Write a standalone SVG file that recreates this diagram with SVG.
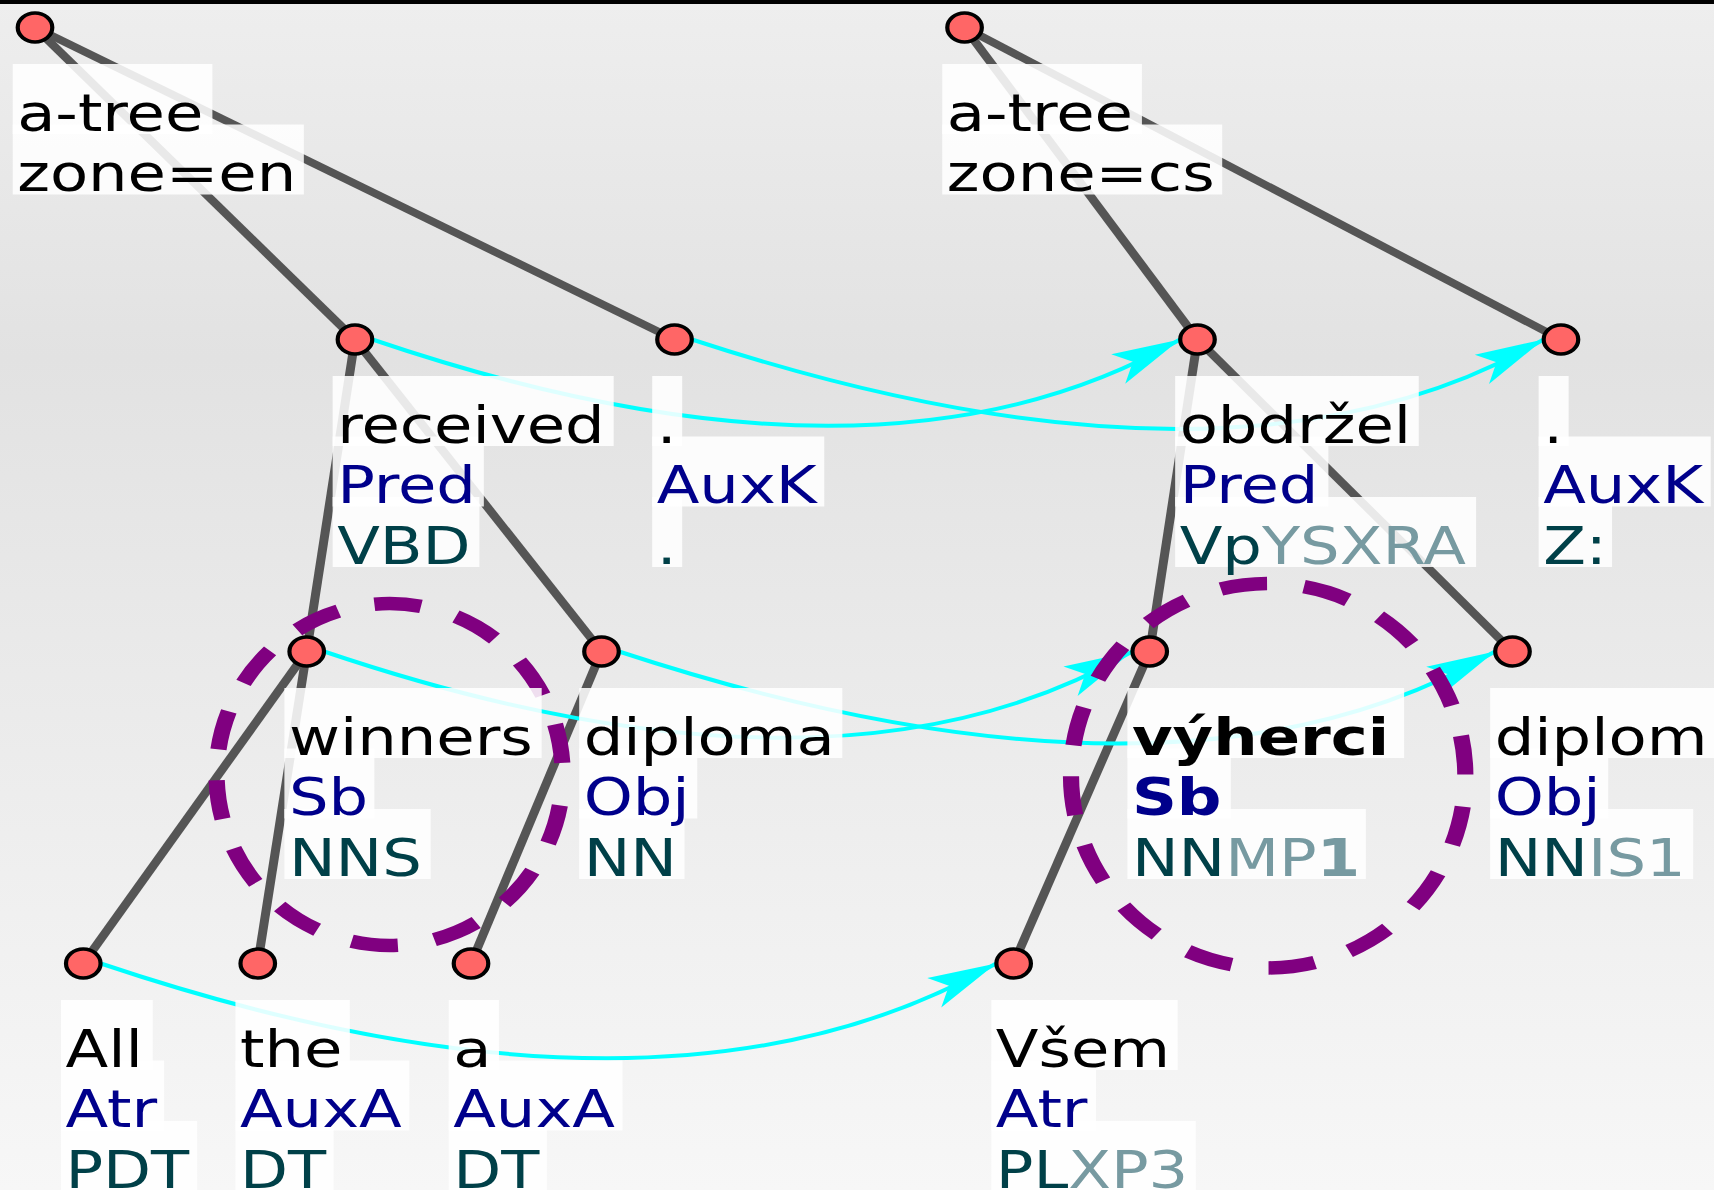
<svg xmlns="http://www.w3.org/2000/svg" width="1714" height="1190" viewBox="0 0 1714 1190">
<style>
.t{font-family:"DejaVu Sans","Liberation Sans",sans-serif;font-size:52px}
.l1{fill:#000}
.l2{fill:#00008b}
.l3{fill:#004048}
.lt{fill:#779aa1}
.b{font-weight:bold}
.bg{fill:#fff;fill-opacity:.87}
.edge{stroke:#555;stroke-width:7.5;fill:none;stroke-linecap:butt}
.node{fill:#ff6666;stroke:#000;stroke-width:3.5}
.al{stroke:#00ffff;stroke-width:4;fill:none;marker-end:url(#ah)}
.grp{fill:none;stroke:#800080;stroke-width:13.5;stroke-dasharray:39 31;stroke-dashoffset:39}
</style>
<defs>
<linearGradient id="bgg" x1="0" y1="0" x2="0" y2="1">
<stop offset="0" stop-color="#eeeeee"/>
<stop offset="0.3" stop-color="#e2e2e2"/>
<stop offset="1" stop-color="#f7f7f7"/>
</linearGradient>
<marker id="ah" viewBox="-80 -30 90 60" markerWidth="90" markerHeight="60" refX="0" refY="0" orient="auto" markerUnits="userSpaceOnUse">
<path d="M0,0 L-67,-21.5 L-52,-4.1 L-69.5,11 Z" fill="#00ffff"/>
</marker>
</defs>
<rect x="0" y="0" width="1714" height="1190" fill="url(#bgg)"/>
<rect x="0" y="0" width="1714" height="4" fill="#000"/>

<g id="edges" transform="scale(1.2,1)">
<line class="edge" x1="29.17" y1="27.5" x2="295.8" y2="339.5"/>
<line class="edge" x1="29.17" y1="27.5" x2="562.1" y2="339.5"/>
<line class="edge" x1="295.8" y1="339.5" x2="255.6" y2="651.5"/>
<line class="edge" x1="295.8" y1="339.5" x2="501.25" y2="651.5"/>
<line class="edge" x1="255.6" y1="651.5" x2="69.4" y2="963.5"/>
<line class="edge" x1="255.6" y1="651.5" x2="214.8" y2="963.5"/>
<line class="edge" x1="501.25" y1="651.5" x2="392.5" y2="963.5"/>
<line class="edge" x1="803.8" y1="27.5" x2="997.9" y2="339.5"/>
<line class="edge" x1="803.8" y1="27.5" x2="1300.8" y2="339.5"/>
<line class="edge" x1="997.9" y1="339.5" x2="958.1" y2="651.5"/>
<line class="edge" x1="997.9" y1="339.5" x2="1260.4" y2="651.5"/>
<line class="edge" x1="958.1" y1="651.5" x2="844.7" y2="963.5"/>
</g>

<g id="alignment">
<path class="al" d="M372.5,339.5 Q880,512 1180,339.5"/>
<path class="al" d="M692,339.5 Q1237,518.3 1543.5,339.5"/>
<path class="al" d="M324.2,651.5 Q835,824 1132.2,651.5"/>
<path class="al" d="M619,651.5 Q1179.6,835.5 1495,651.5"/>
<path class="al" d="M100.8,963.5 Q665,1153 996.1,963.5"/>
</g>

<g transform="scale(1.2,1)">
<g id="groups">
<ellipse class="grp" cx="324.7" cy="774.5" rx="144.2" ry="171"/>
<ellipse class="grp" cx="1056.8" cy="775.7" rx="164.3" ry="192.2"/>
</g>

<g id="n-en-root">
<rect class="bg" x="10.6" y="64" width="166.4" height="70"/>
<rect class="bg" x="10.6" y="124.5" width="242.6" height="70"/>
<text class="t l1" x="14.3" y="131">a-tree</text>
<text class="t l1" x="14.3" y="191.5">zone=en</text>
<ellipse class="node" cx="29.17" cy="27.5" rx="14.4" ry="14.4"/>
</g>

<g id="n-received">
<rect class="bg" x="277.2" y="376" width="234.2" height="70"/>
<rect class="bg" x="277.2" y="436.5" width="126" height="70"/>
<rect class="bg" x="277.2" y="497" width="122.3" height="70"/>
<text class="t l1" x="280.95" y="443">received</text>
<text class="t l2" x="280.95" y="503.5">Pred</text>
<text class="t l3" x="280.95" y="564">VBD</text>
<ellipse class="node" cx="295.8" cy="339.5" rx="14.4" ry="14.4"/>
</g>

<g id="n-period-en">
<rect class="bg" x="543.5" y="376" width="25" height="70"/>
<rect class="bg" x="543.5" y="436.5" width="143.4" height="70"/>
<rect class="bg" x="543.5" y="497" width="25" height="70"/>
<text class="t l1" x="547.25" y="443">.</text>
<text class="t l2" x="547.25" y="503.5">AuxK</text>
<text class="t l3" x="547.25" y="564">.</text>
<ellipse class="node" cx="562.1" cy="339.5" rx="14.4" ry="14.4"/>
</g>

<g id="n-winners">
<rect class="bg" x="237" y="688" width="214.4" height="70"/>
<rect class="bg" x="237" y="748.5" width="75" height="70"/>
<rect class="bg" x="237" y="809" width="121.9" height="70"/>
<text class="t l1" x="240.75" y="755">winners</text>
<text class="t l2" x="240.75" y="815.5">Sb</text>
<text class="t l3" x="240.75" y="876">NNS</text>
<ellipse class="node" cx="255.6" cy="651.5" rx="14.4" ry="14.4"/>
</g>

<g id="n-diploma">
<rect class="bg" x="482.65" y="688" width="219.3" height="70"/>
<rect class="bg" x="482.65" y="748.5" width="98.4" height="70"/>
<rect class="bg" x="482.65" y="809" width="87.8" height="70"/>
<text class="t l1" x="486.4" y="755">diploma</text>
<text class="t l2" x="486.4" y="815.5">Obj</text>
<text class="t l3" x="486.4" y="876">NN</text>
<ellipse class="node" cx="501.25" cy="651.5" rx="14.4" ry="14.4"/>
</g>

<g id="n-all">
<rect class="bg" x="50.8" y="1000" width="76.5" height="70"/>
<rect class="bg" x="50.8" y="1060.5" width="86" height="70"/>
<rect class="bg" x="50.8" y="1121" width="113.5" height="70"/>
<text class="t l1" x="54.55" y="1067">All</text>
<text class="t l2" x="54.55" y="1127.5">Atr</text>
<text class="t l3" x="54.55" y="1188">PDT</text>
<ellipse class="node" cx="69.4" cy="963.5" rx="14.4" ry="14.4"/>
</g>

<g id="n-the">
<rect class="bg" x="196.2" y="1000" width="95.3" height="70"/>
<rect class="bg" x="196.2" y="1060.5" width="144.9" height="70"/>
<rect class="bg" x="196.2" y="1121" width="81.8" height="70"/>
<text class="t l1" x="199.95" y="1067">the</text>
<text class="t l2" x="199.95" y="1127.5">AuxA</text>
<text class="t l3" x="199.95" y="1188">DT</text>
<ellipse class="node" cx="214.8" cy="963.5" rx="14.4" ry="14.4"/>
</g>

<g id="n-a">
<rect class="bg" x="373.9" y="1000" width="41.9" height="70"/>
<rect class="bg" x="373.9" y="1060.5" width="144.9" height="70"/>
<rect class="bg" x="373.9" y="1121" width="81.8" height="70"/>
<text class="t l1" x="377.65" y="1067">a</text>
<text class="t l2" x="377.65" y="1127.5">AuxA</text>
<text class="t l3" x="377.65" y="1188">DT</text>
<ellipse class="node" cx="392.5" cy="963.5" rx="14.4" ry="14.4"/>
</g>

<g id="n-cs-root">
<rect class="bg" x="785.2" y="64" width="166.4" height="70"/>
<rect class="bg" x="785.2" y="124.5" width="233.3" height="70"/>
<text class="t l1" x="788.95" y="131">a-tree</text>
<text class="t l1" x="788.95" y="191.5">zone=cs</text>
<ellipse class="node" cx="803.8" cy="27.5" rx="14.4" ry="14.4"/>
</g>

<g id="n-obdrzel">
<rect class="bg" x="979.3" y="376" width="203" height="70"/>
<rect class="bg" x="979.3" y="436.5" width="127.7" height="70"/>
<rect class="bg" x="979.3" y="497" width="250.8" height="70"/>
<text class="t l1" x="983.05" y="443">obdržel</text>
<text class="t l2" x="983.05" y="503.5">Pred</text>
<text class="t l3" x="983.05" y="564">Vp<tspan class="lt">YSXRA</tspan></text>
<ellipse class="node" cx="997.9" cy="339.5" rx="14.4" ry="14.4"/>
</g>

<g id="n-period-cs">
<rect class="bg" x="1282.2" y="376" width="25" height="70"/>
<rect class="bg" x="1282.2" y="436.5" width="143.4" height="70"/>
<rect class="bg" x="1282.2" y="497" width="61.2" height="70"/>
<text class="t l1" x="1285.95" y="443">.</text>
<text class="t l2" x="1285.95" y="503.5">AuxK</text>
<text class="t l3" x="1285.95" y="564">Z:</text>
<ellipse class="node" cx="1300.8" cy="339.5" rx="14.4" ry="14.4"/>
</g>

<g id="n-vyherci">
<rect class="bg" x="939.5" y="688" width="230.6" height="70"/>
<rect class="bg" x="939.5" y="748.5" width="86.2" height="70"/>
<rect class="bg" x="939.5" y="809" width="198.7" height="70"/>
<text class="t l1 b" x="943.25" y="755">výherci</text>
<text class="t l2 b" x="943.25" y="815.5">Sb</text>
<text class="t l3" x="943.25" y="876">NN<tspan class="lt">MP</tspan><tspan class="lt b">1</tspan></text>
<ellipse class="node" cx="958.1" cy="651.5" rx="14.4" ry="14.4"/>
</g>

<g id="n-diplom">
<rect class="bg" x="1241.8" y="688" width="187.4" height="70"/>
<rect class="bg" x="1241.8" y="748.5" width="98.4" height="70"/>
<rect class="bg" x="1241.8" y="809" width="169.2" height="70"/>
<text class="t l1" x="1245.55" y="755">diplom</text>
<text class="t l2" x="1245.55" y="815.5">Obj</text>
<text class="t l3" x="1245.55" y="876">NN<tspan class="lt">IS1</tspan></text>
<ellipse class="node" cx="1260.4" cy="651.5" rx="14.4" ry="14.4"/>
</g>

<g id="n-vsem">
<rect class="bg" x="826.1" y="1000" width="155.3" height="70"/>
<rect class="bg" x="826.1" y="1060.5" width="87.3" height="70"/>
<rect class="bg" x="826.1" y="1121" width="170.4" height="70"/>
<text class="t l1" x="829.85" y="1067">Všem</text>
<text class="t l2" x="829.85" y="1127.5">Atr</text>
<text class="t l3" x="829.85" y="1188">PL<tspan class="lt">XP3</tspan></text>
<ellipse class="node" cx="844.7" cy="963.5" rx="14.4" ry="14.4"/>
</g>
</g>
</svg>
